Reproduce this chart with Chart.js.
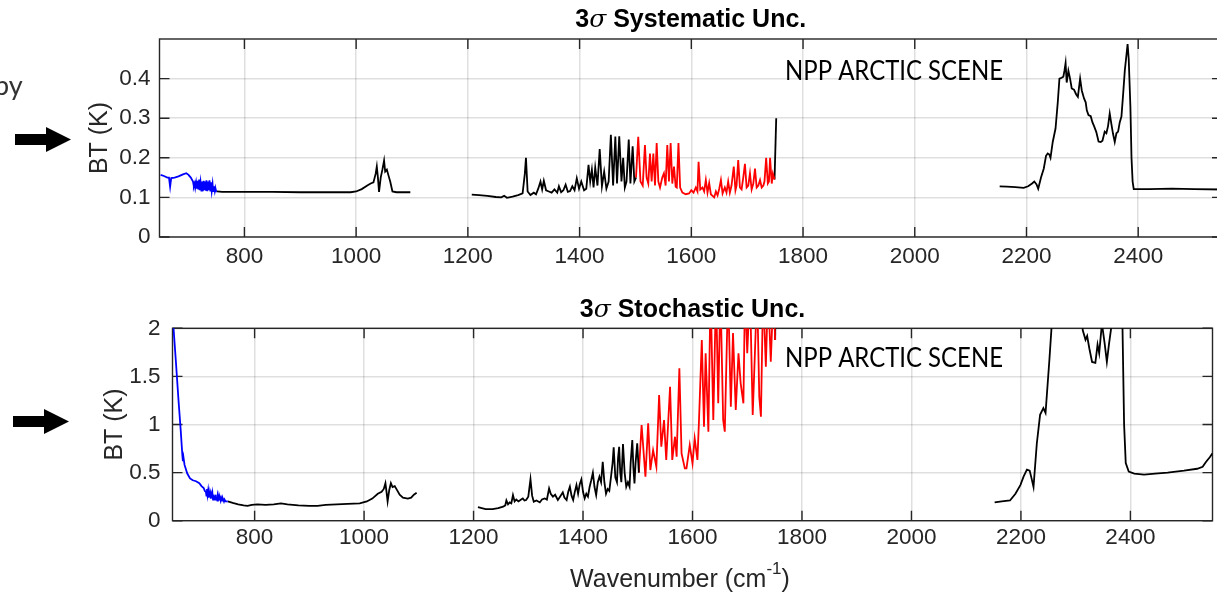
<!DOCTYPE html>
<html>
<head>
<meta charset="utf-8">
<script src="https://cdn.jsdelivr.net/npm/chart.js@4.4.0/dist/chart.umd.min.js"></script>
<style>
  html, body { margin: 0; padding: 0; background: #fff; overflow: hidden; width: 1217px; height: 593px; }
  #graphe-sys { position: absolute; left: 0; top: 0; }
  #graphe-sto { position: absolute; left: 0; top: 290px; }
</style>
</head>
<body>
<canvas id="graphe-sys" width="1222" height="290"></canvas>
<canvas id="graphe-sto" width="1214" height="303"></canvas>
<script>
// --- AXES ---
const xTicks = [800, 1000, 1200, 1400, 1600, 1800, 2000, 2200, 2400];
const sysTicks = [0, 0.1, 0.2, 0.3, 0.4];
const stoTicks = [0, 0.5, 1, 1.5, 2];

// --- INCERTITUDE SYSTÉMATIQUE 3σ (K) ---
// bande LW, partie bleue
const sysLwWn = [650, 656, 662, 665, 667, 669, 675, 682, 690, 696, 700, 704, 708, 709.5, 711, 712, 713.5, 715, 716, 717.5, 719, 720, 721.5, 723, 724, 725.5, 727, 728, 729.5, 731, 732, 733.5, 735, 736, 737.5, 739, 740, 741.5, 743, 744, 745.5, 747, 748, 749.5, 751];
const sysLwBt = [0.157, 0.154, 0.150, 0.150, 0.127, 0.149, 0.150, 0.153, 0.158, 0.161, 0.157, 0.150, 0.140, 0.128, 0.135, 0.125, 0.138, 0.122, 0.142, 0.120, 0.145, 0.118, 0.138, 0.117, 0.140, 0.116, 0.142, 0.118, 0.140, 0.117, 0.143, 0.116, 0.140, 0.118, 0.143, 0.117, 0.138, 0.116, 0.133, 0.116, 0.128, 0.116, 0.124, 0.115, 0.115];
// fenêtre + ozone
const sysWinWn = [751, 760, 800, 850, 900, 950, 990, 1000, 1010, 1020, 1026, 1031, 1035, 1037, 1039, 1041, 1044, 1047, 1050, 1052, 1055, 1058, 1061, 1065, 1072, 1097];
const sysWinBt = [0.115, 0.114, 0.114, 0.114, 0.113, 0.113, 0.113, 0.115, 0.121, 0.130, 0.135, 0.138, 0.160, 0.178, 0.150, 0.114, 0.150, 0.170, 0.193, 0.165, 0.170, 0.155, 0.140, 0.115, 0.113, 0.113];
// bande MW, partie noire
const sysMwWn = [1207, 1220, 1235, 1250, 1260, 1265, 1270, 1280, 1290, 1298, 1302, 1304, 1307, 1312, 1318, 1322, 1326, 1330, 1333, 1336, 1340, 1345, 1350, 1355, 1360, 1363, 1367, 1371, 1375, 1379, 1383, 1387, 1391, 1395, 1399, 1403, 1408, 1412, 1416, 1419, 1422, 1425, 1428, 1432, 1436, 1440, 1444, 1448, 1452, 1456, 1460, 1464, 1467, 1471, 1475, 1478, 1481, 1484, 1488, 1491, 1495, 1498, 1501];
const sysMwBt = [0.107, 0.106, 0.104, 0.101, 0.100, 0.104, 0.099, 0.102, 0.106, 0.110, 0.160, 0.200, 0.115, 0.106, 0.112, 0.108, 0.122, 0.140, 0.120, 0.142, 0.118, 0.115, 0.112, 0.120, 0.112, 0.128, 0.113, 0.118, 0.132, 0.114, 0.116, 0.128, 0.118, 0.148, 0.122, 0.140, 0.118, 0.122, 0.182, 0.140, 0.170, 0.125, 0.175, 0.130, 0.222, 0.128, 0.165, 0.122, 0.140, 0.258, 0.130, 0.254, 0.135, 0.254, 0.140, 0.200, 0.125, 0.140, 0.246, 0.135, 0.229, 0.140, 0.150];
// bande MW, partie rouge
const sysRedWn = [1501, 1505, 1509, 1513, 1517, 1520, 1523, 1526, 1529, 1532, 1535, 1538, 1541, 1544, 1548, 1551, 1554, 1557, 1560, 1563, 1566, 1569, 1572, 1574, 1577, 1580, 1584, 1590, 1596, 1600, 1604, 1608, 1611, 1613, 1616, 1620, 1623, 1626, 1629, 1632, 1635, 1638, 1641, 1644, 1647, 1650, 1653, 1656, 1660, 1663, 1666, 1669, 1672, 1676, 1679, 1681, 1684, 1687, 1690, 1693, 1696, 1699, 1702, 1705, 1708, 1711, 1714, 1717, 1720, 1723, 1726, 1729, 1731, 1734, 1737, 1739, 1741, 1744, 1746, 1749];
const sysRedBt = [0.150, 0.253, 0.140, 0.130, 0.232, 0.150, 0.135, 0.211, 0.140, 0.211, 0.130, 0.237, 0.140, 0.125, 0.150, 0.161, 0.130, 0.232, 0.140, 0.237, 0.135, 0.178, 0.127, 0.125, 0.237, 0.125, 0.112, 0.108, 0.110, 0.118, 0.112, 0.125, 0.115, 0.190, 0.120, 0.125, 0.115, 0.144, 0.112, 0.136, 0.108, 0.104, 0.100, 0.115, 0.105, 0.122, 0.144, 0.110, 0.125, 0.112, 0.140, 0.112, 0.130, 0.178, 0.118, 0.130, 0.194, 0.125, 0.120, 0.150, 0.185, 0.125, 0.130, 0.161, 0.120, 0.135, 0.173, 0.125, 0.130, 0.144, 0.125, 0.130, 0.140, 0.200, 0.135, 0.140, 0.200, 0.135, 0.160, 0.145];
// bord de bande à 1752
const sysEdgeWn = [1749, 1752];
const sysEdgeBt = [0.145, 0.300];
// bande SW
const sysSwWn = [2152, 2165, 2180, 2195, 2203, 2210, 2214, 2218, 2221, 2226, 2231, 2235, 2238, 2241, 2243, 2247, 2252, 2256, 2259, 2263, 2266, 2268, 2270, 2272, 2275, 2278, 2281, 2285, 2289, 2292, 2296, 2299, 2303, 2306, 2308, 2311, 2315, 2318, 2321, 2325, 2329, 2333, 2336, 2340, 2343, 2346, 2349, 2352, 2355, 2358, 2361, 2364, 2367, 2370, 2373, 2376, 2379, 2381, 2383, 2386, 2388, 2390, 2392, 2420, 2460, 2500, 2550];
const sysSwBt = [0.128, 0.127, 0.126, 0.124, 0.128, 0.135, 0.140, 0.133, 0.122, 0.150, 0.173, 0.205, 0.211, 0.208, 0.200, 0.240, 0.274, 0.340, 0.400, 0.402, 0.405, 0.420, 0.439, 0.390, 0.420, 0.400, 0.375, 0.372, 0.360, 0.354, 0.400, 0.370, 0.350, 0.340, 0.320, 0.308, 0.305, 0.290, 0.280, 0.265, 0.241, 0.240, 0.243, 0.266, 0.262, 0.280, 0.312, 0.285, 0.260, 0.240, 0.262, 0.266, 0.290, 0.304, 0.360, 0.420, 0.460, 0.487, 0.450, 0.330, 0.200, 0.140, 0.121, 0.121, 0.122, 0.121, 0.120];

// --- INCERTITUDE STOCHASTIQUE 3σ (K) ---
const stoLwWn = [650, 656, 661, 665, 668, 669, 670, 672, 677, 682, 687, 693, 699, 703, 707, 709, 711, 712, 713, 714, 715, 716, 717, 718, 719, 720, 721, 722, 723, 724, 725, 726, 727, 728, 729, 730, 731, 732, 733, 735, 736, 738, 739, 741, 742, 744, 745, 747, 751];
const stoLwBt = [2.15, 1.67, 1.25, 0.94, 0.68, 0.62, 0.66, 0.58, 0.49, 0.44, 0.42, 0.41, 0.39, 0.36, 0.34, 0.31, 0.30, 0.26, 0.33, 0.27, 0.31, 0.24, 0.29, 0.25, 0.28, 0.23, 0.27, 0.24, 0.28, 0.22, 0.27, 0.23, 0.26, 0.22, 0.27, 0.22, 0.25, 0.21, 0.26, 0.22, 0.25, 0.21, 0.24, 0.21, 0.23, 0.20, 0.22, 0.20, 0.20];
const stoWinWn = [751, 760, 770, 780, 787, 795, 805, 820, 835, 848, 860, 880, 900, 915, 930, 950, 970, 992, 1005, 1015, 1025, 1032, 1036, 1039, 1041, 1043, 1046, 1049, 1052, 1056, 1060, 1065, 1071, 1080, 1086, 1091, 1096];
const stoWinBt = [0.20, 0.185, 0.17, 0.16, 0.155, 0.165, 0.17, 0.165, 0.17, 0.18, 0.17, 0.16, 0.155, 0.155, 0.165, 0.17, 0.175, 0.18, 0.20, 0.23, 0.28, 0.30, 0.33, 0.39, 0.30, 0.20, 0.32, 0.39, 0.35, 0.36, 0.32, 0.27, 0.24, 0.23, 0.24, 0.27, 0.29];
const stoMwWn = [1208, 1215, 1222, 1235, 1245, 1254, 1258, 1260, 1263, 1266, 1269, 1272, 1275, 1278, 1282, 1287, 1290, 1293, 1296, 1300, 1304, 1307, 1310, 1315, 1321, 1325, 1330, 1334, 1338, 1341, 1345, 1349, 1354, 1358, 1363, 1366, 1370, 1373, 1376, 1379, 1382, 1385, 1388, 1391, 1394, 1397, 1400, 1403, 1406, 1409, 1412, 1415, 1418, 1421, 1424, 1427, 1430, 1433, 1436, 1439, 1442, 1445, 1448, 1451, 1454, 1456, 1459, 1462, 1464, 1466, 1468, 1470, 1473, 1476, 1479, 1482, 1485, 1487, 1490, 1492, 1494, 1496, 1499, 1502];
const stoMwBt = [0.14, 0.13, 0.12, 0.12, 0.13, 0.146, 0.16, 0.21, 0.17, 0.19, 0.18, 0.267, 0.20, 0.22, 0.20, 0.22, 0.232, 0.21, 0.215, 0.25, 0.43, 0.26, 0.198, 0.21, 0.19, 0.22, 0.232, 0.22, 0.336, 0.28, 0.25, 0.27, 0.215, 0.25, 0.295, 0.24, 0.215, 0.30, 0.353, 0.26, 0.215, 0.30, 0.371, 0.28, 0.38, 0.43, 0.30, 0.232, 0.28, 0.25, 0.35, 0.42, 0.499, 0.35, 0.267, 0.40, 0.457, 0.40, 0.613, 0.40, 0.28, 0.33, 0.31, 0.45, 0.60, 0.762, 0.45, 0.40, 0.65, 0.769, 0.50, 0.40, 0.797, 0.50, 0.353, 0.40, 0.353, 0.60, 0.838, 0.55, 0.388, 0.60, 0.804, 0.50];
const stoRedWn = [1502, 1507, 1514, 1519, 1523, 1528, 1534, 1539, 1543, 1548, 1552, 1559, 1563, 1568, 1571, 1576, 1580, 1586, 1589, 1595, 1600, 1604, 1609, 1612, 1617, 1621, 1624, 1629, 1633, 1638, 1643, 1647, 1651, 1656, 1659, 1665, 1670, 1674, 1679, 1684, 1688, 1693, 1696, 1700, 1705, 1710, 1714, 1718, 1722, 1725, 1729, 1734, 1738, 1743, 1748, 1751];
const stoRedBt = [0.50, 0.995, 0.457, 1.012, 0.527, 0.734, 0.561, 1.306, 0.769, 1.047, 0.631, 1.393, 0.631, 0.873, 0.665, 1.584, 0.70, 0.544, 0.544, 0.786, 0.596, 0.856, 0.631, 1.064, 1.878, 0.977, 1.74, 0.925, 2.4, 1.047, 2.4, 1.22, 2.4, 1.047, 0.925, 2.4, 1.185, 1.95, 1.15, 1.74, 1.428, 1.22, 2.4, 1.74, 2.4, 1.098, 1.74, 2.4, 1.289, 1.081, 2.4, 1.601, 2.4, 1.653, 2.4, 1.878];
const stoEdgeWn = [1751, 1753];
const stoEdgeBt = [1.878, 3.0];
const stoSwWn = [2152, 2165, 2180, 2190, 2199, 2205, 2211, 2216, 2219, 2223, 2229, 2235, 2241, 2245, 2252, 2257, 2265, 2290, 2306, 2313, 2318, 2321, 2325, 2330, 2336, 2340, 2343, 2348, 2353, 2357, 2361, 2366, 2370, 2380, 2385, 2388.5, 2391.5, 2397, 2407, 2425, 2445, 2468, 2498, 2522, 2532, 2538, 2545, 2550];
const stoSwBt = [0.19, 0.20, 0.21, 0.28, 0.37, 0.46, 0.53, 0.52, 0.45, 0.35, 0.80, 1.10, 1.17, 1.12, 1.67, 2.10, 2.80, 3.20, 2.40, 1.98, 1.88, 1.92, 1.79, 1.65, 1.64, 1.83, 1.74, 2.05, 1.84, 1.65, 1.84, 2.05, 2.60, 3.00, 2.20, 1.00, 0.60, 0.51, 0.49, 0.48, 0.49, 0.50, 0.52, 0.54, 0.56, 0.61, 0.66, 0.70];

// --- STYLES COMMUNS ---
const AXE = '#262626';
const GRILLE = 'rgba(38,38,38,0.15)';
const POLICE = '"Liberation Sans", Arial, Helvetica, sans-serif';

const serie = (wn, bt, couleur) => ({
    data: wn.map((w, i) => ({ x: w, y: bt[i] })),
    borderColor: couleur,
    borderWidth: 1.8,
    pointRadius: 0,
    tension: 0,
    fill: false
});

// cadre façon MATLAB : boîte complète + graduations vers l'intérieur
const cadre = {
    id: 'cadre',
    beforeDatasetsDraw(chart, args, opts) {
        const { ctx, chartArea: a, scales } = chart;
        ctx.save();
        ctx.strokeStyle = AXE;
        ctx.lineWidth = 1.4;
        ctx.beginPath();
        xTicks.forEach(v => {
            const x = scales.x.getPixelForValue(v);
            ctx.moveTo(x, a.bottom); ctx.lineTo(x, a.bottom - 10);
            ctx.moveTo(x, a.top); ctx.lineTo(x, a.top + 10);
        });
        opts.yTicks.forEach(v => {
            const y = scales.y.getPixelForValue(v);
            ctx.moveTo(a.left, y); ctx.lineTo(a.left + 10, y);
            ctx.moveTo(a.right, y); ctx.lineTo(a.right - 10, y);
        });
        ctx.stroke();
        ctx.strokeRect(a.left, a.top, a.right - a.left, a.bottom - a.top);
        ctx.restore();
    },
    afterDraw(chart, args, opts) {
        const { ctx, chartArea: a } = chart;
        const cx = (a.left + a.right) / 2;
        ctx.save();

        // titre : "3" + sigma en italique + texte
        const morceaux = [
            { t: '3', f: 'bold 25px ' + POLICE },
            { t: 'σ', f: 'italic 25px "DejaVu Serif", serif' },
            { t: ' ' + opts.titre, f: 'bold 25px ' + POLICE }
        ];
        let total = 0;
        morceaux.forEach(m => { ctx.font = m.f; m.w = ctx.measureText(m.t).width; total += m.w; });
        let x = cx - total / 2;
        ctx.fillStyle = '#000';
        ctx.textBaseline = 'alphabetic';
        ctx.textAlign = 'left';
        morceaux.forEach(m => { ctx.font = m.f; ctx.fillText(m.t, x, 26.7); x += m.w; });

        // étiquette de l'axe Y
        ctx.fillStyle = AXE;
        ctx.font = '25px ' + POLICE;
        ctx.translate(opts.yLabelX, (a.top + a.bottom) / 2);
        ctx.rotate(-Math.PI / 2);
        ctx.textAlign = 'center';
        ctx.textBaseline = 'middle';
        ctx.fillText('BT (K)', 0, 0);
        ctx.setTransform(1, 0, 0, 1, 0, 0);

        // étiquette de l'axe X avec exposant
        if (opts.xLabel) {
            const base = 'Wavenumber (cm', sup = '-1', fin = ')';
            ctx.font = '25px ' + POLICE;
            const w1 = ctx.measureText(base).width, w3 = ctx.measureText(fin).width;
            ctx.font = '17px ' + POLICE;
            const w2 = ctx.measureText(sup).width;
            let xx = 680 - (w1 + w2 + w3) / 2;
            ctx.textAlign = 'left';
            ctx.textBaseline = 'alphabetic';
            ctx.font = '25px ' + POLICE;
            ctx.fillText(base, xx, 296.7); xx += w1;
            ctx.font = '17px ' + POLICE;
            ctx.fillText(sup, xx, 284); xx += w2;
            ctx.font = '25px ' + POLICE;
            ctx.fillText(fin, xx, 296.7);
        }

        // libellé de scène
        ctx.fillStyle = '#000';
        ctx.font = '26px Lato, "Open Sans", sans-serif';
        ctx.textAlign = 'left';
        ctx.textBaseline = 'alphabetic';
        ctx.fillText('NPP ARCTIC SCENE', 785, opts.sceneY, 218);

        // flèche noire à gauche
        const f = opts.fleche;
        ctx.beginPath();
        ctx.moveTo(f.x, f.y - 5.5);
        ctx.lineTo(f.x + 31, f.y - 5.5);
        ctx.lineTo(f.x + 31, f.y - 12.5);
        ctx.lineTo(f.x + 56, f.y);
        ctx.lineTo(f.x + 31, f.y + 12.5);
        ctx.lineTo(f.x + 31, f.y + 5.5);
        ctx.lineTo(f.x, f.y + 5.5);
        ctx.closePath();
        ctx.fill();

        // texte de la diapo, coupé au bord
        if (opts.bout) {
            ctx.fillStyle = '#333';
            ctx.font = '27px Lato, "Open Sans", sans-serif';
            ctx.fillText(opts.bout, -6, 95);
        }
        ctx.restore();
    }
};

const axes = (xMin, xMax, yMax, yTicksVals, yWidth, xHeight, xPad, yPad) => ({
    x: {
        type: 'linear', min: xMin, max: xMax,
        afterBuildTicks: s => { s.ticks = xTicks.map(v => ({ value: v })); },
        afterFit: s => { s.height = xHeight; },
        grid: { color: GRILLE, lineWidth: 1.5, drawTicks: false },
        border: { display: false },
        ticks: { autoSkip: false, maxRotation: 0, padding: xPad, color: AXE, font: { family: POLICE, size: 22.5 }, callback: v => String(v) }
    },
    y: {
        min: 0, max: yMax,
        afterBuildTicks: s => { s.ticks = yTicksVals.map(v => ({ value: v })); },
        afterFit: s => { s.width = yWidth; },
        grid: { color: GRILLE, lineWidth: 1.5, drawTicks: false },
        border: { display: false },
        ticks: { padding: yPad, color: AXE, font: { family: POLICE, size: 22.5 }, callback: v => String(v) }
    }
});

// --- GRAPHE DU HAUT : SYSTÉMATIQUE ---
new Chart(document.getElementById('graphe-sys'), {
    type: 'line',
    data: {
        datasets: [
            serie(sysLwWn, sysLwBt, '#0000ff'),
            serie(sysWinWn, sysWinBt, '#000000'),
            serie(sysMwWn, sysMwBt, '#000000'),
            serie(sysRedWn, sysRedBt, '#ff0000'),
            serie(sysEdgeWn, sysEdgeBt, '#000000'),
            serie(sysSwWn, sysSwBt, '#000000')
        ]
    },
    options: {
        responsive: false,
        animation: false,
        layout: { padding: { left: 0, top: 39, right: 0, bottom: 0 } },
        scales: axes(648, 2550, 0.5, sysTicks, 159.5, 53, 6, 9),
        plugins: {
            legend: { display: false },
            tooltip: { enabled: false },
            cadre: { yTicks: sysTicks, titre: 'Systematic Unc.', yLabelX: 100.5, sceneY: 80, fleche: { x: 15, y: 139.5 }, bout: 'by', xLabel: false }
        }
    },
    plugins: [cadre]
});

// --- GRAPHE DU BAS : STOCHASTIQUE ---
new Chart(document.getElementById('graphe-sto'), {
    type: 'line',
    data: {
        datasets: [
            serie(stoLwWn, stoLwBt, '#0000ff'),
            serie(stoWinWn, stoWinBt, '#000000'),
            serie(stoMwWn, stoMwBt, '#000000'),
            serie(stoRedWn, stoRedBt, '#ff0000'),
            serie(stoEdgeWn, stoEdgeBt, '#000000'),
            serie(stoSwWn, stoSwBt, '#000000')
        ]
    },
    options: {
        responsive: false,
        animation: false,
        layout: { padding: { left: 0, top: 38.3, right: 1.5, bottom: 0 } },
        scales: axes(650, 2550, 2, stoTicks, 172.5, 72.3, 4, 12),
        plugins: {
            legend: { display: false },
            tooltip: { enabled: false },
            cadre: { yTicks: stoTicks, titre: 'Stochastic Unc.', yLabelX: 115.3, sceneY: 76.7, fleche: { x: 13, y: 131.5 }, bout: null, xLabel: true }
        }
    },
    plugins: [cadre]
});
</script>
</body>
</html>
